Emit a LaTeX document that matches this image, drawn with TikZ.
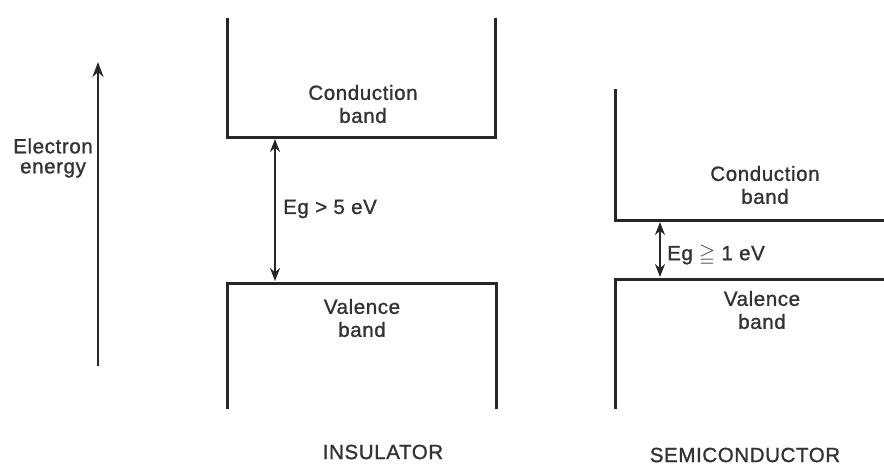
\documentclass[tikz,border=0pt]{standalone}
\usepackage{fontspec}
\usepackage{amssymb}
\setmainfont{Liberation Sans}
\newfontfamily\lblfont[LetterSpace=3,FakeBold=1.2]{Liberation Sans}
\usetikzlibrary{arrows.meta}
\begin{document}
\begin{tikzpicture}[x=1pt,y=-1pt,
  band/.style={line width=3pt,line join=miter,draw=black!85},
  lbl/.style={font=\lblfont\fontsize{20.5}{24}\selectfont,align=center,inner sep=0pt,text=black!80},
  captionlbl/.style={font=\lblfont\fontsize{20.5}{24}\selectfont,inner sep=0pt,text=black!80},
  garrow/.style={line width=2pt,draw=black!85,{Stealth[length=13pt,width=10pt]}-{Stealth[length=13pt,width=10pt]}},
  earrow/.style={line width=2.4pt,draw=black!85,-{Stealth[length=15pt,width=11pt]}}]
\useasboundingbox (0,0) rectangle (884,466);
% energy axis
\coordinate (e0) at (98,366);
\coordinate (e1) at (98,62);
\draw[earrow] (e0) -- (e1);
\node[lbl,anchor=east] (elab) at (93,158) {Electron\\[-4pt]energy};
% insulator
\draw[band] (227,18) -- (227,137) -- (495,137) -- (495,18);
\draw[band] (227,409) -- (227,283) -- (496,283) -- (496,409);
\coordinate (ig1) at (275,139);
\coordinate (ig0) at (275,281);
\draw[garrow] (ig0) -- (ig1);
\node[lbl] (icb) at (363,104) {Conduction\\[-1pt]band};
\node[lbl] (ivb) at (362,318) {Valence\\[-1pt]band};
\node[lbl,anchor=west] (ieg) at (283,209) {Eg {>} 5 eV};
\node[captionlbl] (ins) at (383,452) {INSULATOR};
% semiconductor
\draw[band] (615,89) -- (615,220) -- (884,220);
\draw[band] (615,409) -- (615,279) -- (884,279);
\coordinate (sg1) at (660,222);
\coordinate (sg0) at (660,277);
\draw[garrow] (sg0) -- (sg1);
\node[lbl] (scb) at (765,185) {Conduction\\[-1pt]band};
\node[lbl] (svb) at (762,310) {Valence\\[-1pt]band};
\node[lbl,anchor=west] (seg) at (667,255) {Eg $\geqq$ 1 eV};
\node[captionlbl] (semi) at (745,455) {SEMICONDUCTOR};
\end{tikzpicture}
\end{document}
